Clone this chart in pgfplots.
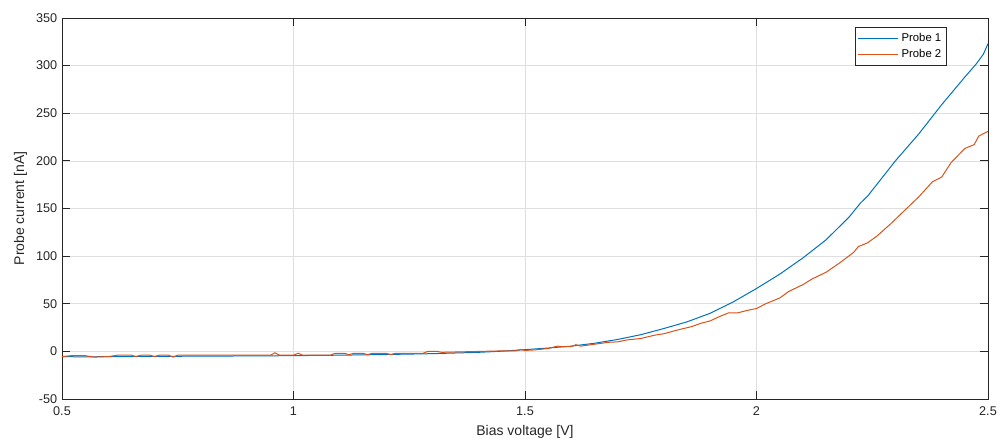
\documentclass[border=0pt]{standalone}
\usepackage{pgfplots}
\pgfplotsset{compat=1.18}
\usepackage{fontspec}
\setmainfont{Liberation Sans}

\definecolor{mblue}{RGB}{0,114,189}
\definecolor{morange}{RGB}{217,83,25}
\definecolor{axgray}{RGB}{38,38,38}
\definecolor{gridgray}{RGB}{223,223,223}

% Probe current vs. bias voltage
\pgfplotstableread{
V I
0.50 -5.5
0.55 -5.8
0.60 -5.5
0.70 -5.3
0.80 -5.0
0.90 -4.8
1.00 -4.5
1.10 -4.0
1.20 -3.3
1.30 -2.4
1.40 -1.0
1.45 0.2
1.50 1.8
1.55 3.5
1.60 5.5
1.65 8.5
1.70 12.5
1.75 17.5
1.80 24
1.85 31
1.90 40
1.95 52
2.00 66
2.05 81
2.10 98
2.15 117
2.20 141
2.225 156
2.24 163
2.30 200
2.35 228
2.40 259
2.45 288
2.475 302
2.49 312
2.50 323
}\probeone

\pgfplotstableread{
V I
0.50 -5.5
0.52 -4.5
0.55 -4.5
0.57 -6
0.60 -5.5
0.62 -4
0.65 -4
0.66 -5.5
0.67 -4
0.69 -4
0.70 -5.5
0.71 -4
0.73 -4
0.74 -6
0.75 -4
0.95 -4
0.96 -1.5
0.97 -4
1.00 -4
1.01 -2
1.02 -4
1.08 -4
1.09 -2
1.11 -2
1.12 -3.5
1.13 -2
1.15 -2
1.16 -3.5
1.17 -2
1.20 -2
1.21 -3.5
1.22 -2
1.28 -2
1.29 0
1.31 0
1.32 -1
1.45 0.5
1.48 0.5
1.49 2
1.50 1
1.52 1.5
1.55 3
1.57 5.5
1.58 5
1.60 5
1.61 7
1.62 5.5
1.65 7.5
1.68 9.5
1.70 10
1.72 12
1.75 13.5
1.78 17
1.80 18.5
1.83 22.5
1.86 26
1.88 29.5
1.90 32
1.92 36.5
1.94 40.5
1.96 40.5
1.98 43
2.00 45
2.02 50
2.05 56
2.07 63
2.10 70
2.12 76
2.15 83
2.18 93
2.21 104
2.22 110
2.24 114
2.26 121
2.29 134
2.32 148
2.35 162
2.38 178
2.40 183
2.42 198
2.45 213
2.47 217
2.48 226
2.50 231
}\probetwo

\begin{document}
\begin{tikzpicture}
\useasboundingbox (-46.5pt,-32.25pt) rectangle (704.25pt,299.25pt);
\begin{axis}[
  scale only axis,
  width=694.5pt, height=285.75pt,
  xmin=0.5, xmax=2.5, ymin=-50, ymax=350,
  xtick={0.5,1,1.5,2,2.5},
  ytick={-50,0,50,...,350},
  xticklabels={0.5,1,1.5,2,2.5},
  yticklabels={-50,0,50,100,150,200,250,300,350},
  grid=major,
  major grid style={gridgray, line width=0.5pt},
  axis line style={axgray, line width=0.6pt},
  tick style={axgray, line width=0.6pt},
  major tick length=6pt,
  tick align=inside,
  xtick pos=both, ytick pos=both,
  ticklabel style={font=\fontsize{9.5}{11}\selectfont, text=axgray},
  xticklabel style={yshift=-2pt},
  xlabel={Bias voltage [V]},
  ylabel={Probe current [nA]},
  label style={font=\fontsize{10.5}{12}\selectfont, text=axgray},
  xlabel style={yshift=-1pt},
  ylabel style={yshift=0pt},
  legend style={
    at={(rel axis cs:1,1)}, anchor=north east,
    xshift=-30.75pt, yshift=-6.75pt,
    font=\fontsize{8.5}{10}\selectfont,
    draw=axgray, line width=0.6pt,
    inner xsep=2pt, inner ysep=2.5pt,
    row sep=0pt,
  },
  legend cell align=left,
  legend image code/.code={\draw[#1, line width=0.75pt] (0pt,0pt) -- (30pt,0pt);},
]
\addplot[mblue, line width=0.75pt] table[x=V, y=I] {\probeone};
\addlegendentry{Probe 1}
\addplot[morange, line width=0.75pt] table[x=V, y=I] {\probetwo};
\addlegendentry{Probe 2}
\end{axis}
\end{tikzpicture}
\end{document}
